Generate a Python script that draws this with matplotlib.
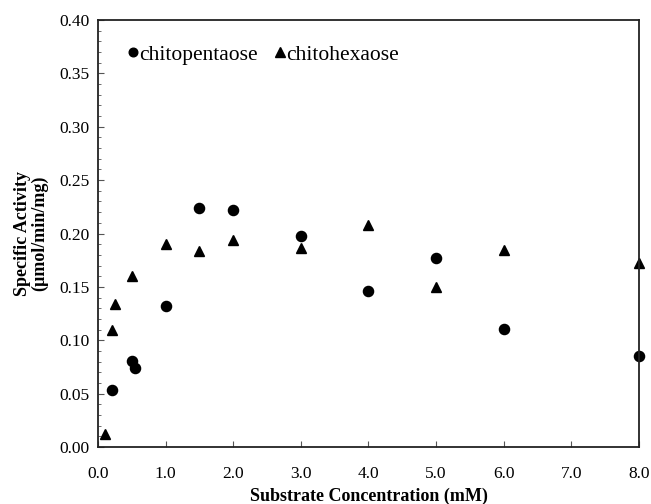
import matplotlib
matplotlib.use('Agg')
import matplotlib.pyplot as plt
from matplotlib.ticker import MultipleLocator

# substrate concentration (mM) and specific activity (umol/min/mg)
penta_x = [0.2, 0.5, 0.55, 1.0, 1.5, 2.0, 3.0, 4.0, 5.0, 6.0, 8.0]
penta_y = [0.053, 0.081, 0.074, 0.132, 0.224, 0.222, 0.198, 0.146, 0.177, 0.111, 0.085]

hexa_x = [0.1, 0.2, 0.25, 0.5, 1.0, 1.5, 2.0, 3.0, 4.0, 5.0, 6.0, 8.0]
hexa_y = [0.012, 0.110, 0.134, 0.160, 0.190, 0.184, 0.194, 0.186, 0.208, 0.150, 0.185, 0.172]

plt.rcParams['font.family'] = ['Liberation Serif', 'DejaVu Serif']

fig = plt.figure(figsize=(6.51, 5.04), dpi=100)
ax = fig.add_axes([0.1505, 0.1131, 0.8311, 0.8472])

ax.plot(penta_x, penta_y, 'o', color='black', markersize=7.3, clip_on=False,
        label='chitopentaose')
ax.plot(hexa_x, hexa_y, '^', color='black', markersize=7.8, clip_on=False,
        label='chitohexaose')

ax.set_xlim(0, 8)
ax.set_ylim(0, 0.40)
ax.xaxis.set_major_locator(MultipleLocator(1.0))
ax.yaxis.set_major_locator(MultipleLocator(0.05))
ax.yaxis.set_minor_locator(MultipleLocator(0.01))
ax.xaxis.set_major_formatter(lambda v, p: f'{v:.1f}')
ax.yaxis.set_major_formatter(lambda v, p: f'{v:.2f}')
ax.tick_params(axis='both', which='both', direction='in', labelsize=12.5, color='#555555')
ax.tick_params(axis='y', which='major', length=4, pad=6)
ax.tick_params(axis='y', which='minor', length=2)
ax.tick_params(axis='x', which='major', length=4, pad=14)

for s in ax.spines.values():
    s.set_linewidth(1.3)
    s.set_color('#222222')

ax.set_xlabel('Substrate Concentration (mM)', fontsize=13, fontweight='bold', labelpad=4)
ax.set_ylabel('Specific Activity\n(\u00b5mol/min/mg)', fontsize=13, fontweight='bold',
              labelpad=8, linespacing=1.0)

ax.legend(loc='upper left', bbox_to_anchor=(0.021, 0.988), ncol=2, frameon=False,
          fontsize=15.5, handlelength=0.4, handletextpad=0.1, columnspacing=0.8,
          markerscale=0.85)

fig.savefig('out.png', dpi=100)
